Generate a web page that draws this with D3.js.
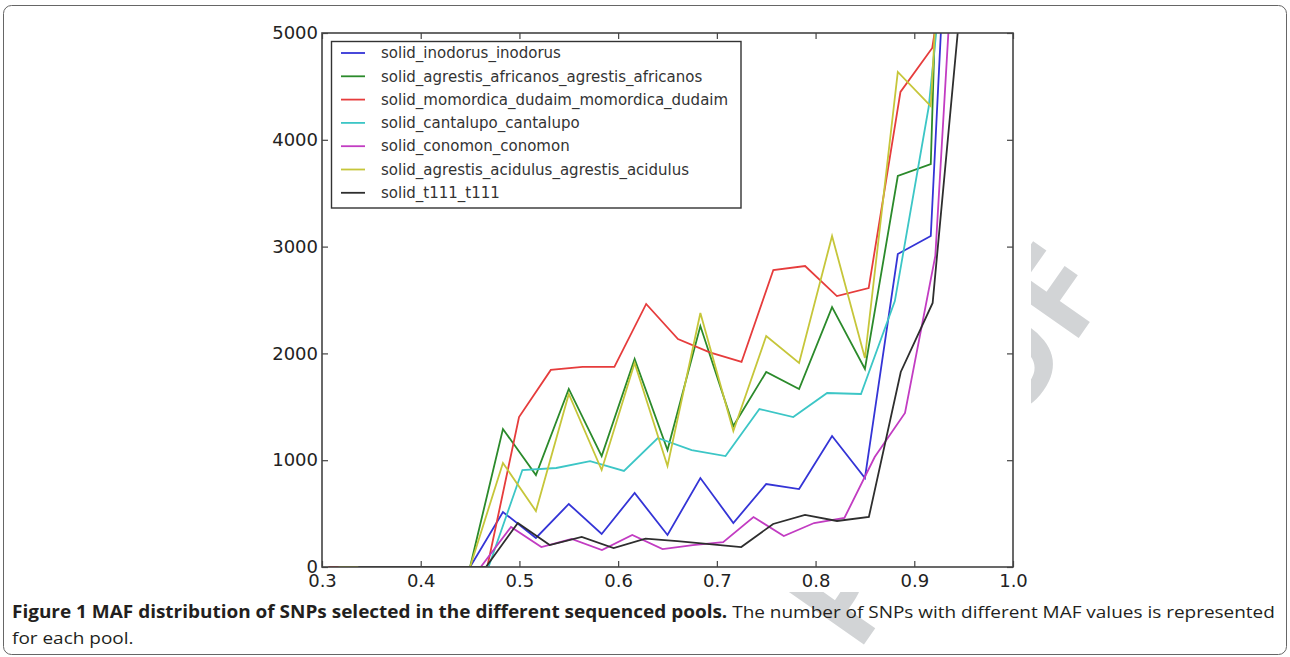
<!DOCTYPE html>
<html>
<head>
<meta charset="utf-8">
<script src="https://cdn.jsdelivr.net/npm/d3@7"></script>
<style>
  body { margin: 0; background: #fff; }
  svg { display: block; }
</style>
</head>
<body>
<div id="chart"></div>
<script>
// pool names, in the order matplotlib drew them
const poolNames = [
  "solid_inodorus_inodorus",
  "solid_agrestis_africanos_agrestis_africanos",
  "solid_momordica_dudaim_momordica_dudaim",
  "solid_cantalupo_cantalupo",
  "solid_conomon_conomon",
  "solid_agrestis_acidulus_agrestis_acidulus",
  "solid_t111_t111"
];
const poolColors = ["#3434d6", "#2b8a2b", "#e63c3c", "#3cc6c6", "#c23cc2", "#c6c63a", "#2e2e2e"];

// MAF bin centres and SNP counts
const mafInodorus = [0.3167, 0.35, 0.3833, 0.4167, 0.45, 0.4833, 0.5167, 0.55, 0.5833, 0.6167, 0.65, 0.6833, 0.7167, 0.75, 0.7833, 0.8167, 0.85, 0.8833, 0.9167, 0.95];
const snpInodorus = [0, 0, 0, 0, 0, 515, 272, 590, 309, 693, 300, 833, 412, 777, 730, 1227, 833, 2930, 3099, 9300];

const mafAfricanos = [0.3167, 0.35, 0.3833, 0.4167, 0.45, 0.4833, 0.5167, 0.55, 0.5833, 0.6167, 0.65, 0.6833, 0.7167, 0.75, 0.7833, 0.8167, 0.85, 0.8833, 0.9167, 0.95];
const snpAfricanos = [0, 0, 0, 0, 0, 1292, 861, 1667, 1039, 1948, 1096, 2256, 1320, 1826, 1667, 2434, 1854, 3661, 3773, 13900];

const mafMomordica = [0.3064, 0.3386, 0.3708, 0.403, 0.4352, 0.4674, 0.4996, 0.5318, 0.564, 0.5962, 0.6284, 0.6606, 0.6928, 0.725, 0.7572, 0.7894, 0.8216, 0.8538, 0.886, 0.9182, 0.9504];
const snpMomordica = [0, 0, 0, 0, 0, 0, 1404, 1845, 1873, 1873, 2463, 2135, 2010, 1920, 2781, 2818, 2537, 2612, 4448, 4860, 6800];

const mafCantalupo = [0.3315, 0.3658, 0.4001, 0.4344, 0.4687, 0.503, 0.5373, 0.5716, 0.6059, 0.6402, 0.6745, 0.7088, 0.7431, 0.7774, 0.8117, 0.846, 0.8803, 0.9146, 0.9489];
const snpCantalupo = [0, 0, 0, 0, 0, 908, 927, 992, 899, 1208, 1095, 1039, 1479, 1404, 1629, 1620, 2490, 4307, 7460];

const mafConomon = [0.338, 0.3687, 0.3994, 0.4301, 0.4608, 0.4915, 0.5222, 0.5529, 0.5836, 0.6143, 0.645, 0.6757, 0.7064, 0.7371, 0.7678, 0.7985, 0.8292, 0.8599, 0.8906, 0.9213, 0.952];
const snpConomon = [0, 0, 0, 0, 0, 375, 187, 262, 159, 300, 168, 205, 232, 468, 290, 412, 459, 1030, 1442, 2912, 7760];

const mafAcidulus = [0.3167, 0.35, 0.3833, 0.4167, 0.45, 0.4833, 0.5167, 0.55, 0.5833, 0.6167, 0.65, 0.6833, 0.7167, 0.75, 0.7833, 0.8167, 0.85, 0.8833, 0.9167, 0.95];
const snpAcidulus = [0, 0, 0, 0, 0, 974, 524, 1620, 908, 1910, 946, 2378, 1273, 2163, 1910, 3099, 1957, 4635, 4316, 10000];

const mafT111 = [0.3368, 0.3691, 0.4015, 0.4338, 0.4661, 0.4984, 0.5307, 0.5631, 0.5954, 0.6277, 0.66, 0.6924, 0.7247, 0.757, 0.7893, 0.8217, 0.854, 0.8863, 0.9186, 0.951];
const snpT111 = [0, 0, 0, 0, 0, 412, 206, 281, 178, 265, 243, 215, 187, 403, 487, 431, 468, 1826, 2472, 5700];

const xTicks = [0.3, 0.4, 0.5, 0.6, 0.7, 0.8, 0.9, 1.0];
const yTicks = [0, 1000, 2000, 3000, 4000, 5000];

const captionBold = "Figure 1 MAF distribution of SNPs selected in the different sequenced pools.";
const captionRest = " The number of SNPs with different MAF values is represented";
const captionLine2 = "for each pool.";

const mafs = [mafInodorus, mafAfricanos, mafMomordica, mafCantalupo, mafConomon, mafAcidulus, mafT111];
const snps = [snpInodorus, snpAfricanos, snpMomordica, snpCantalupo, snpConomon, snpAcidulus, snpT111];
const pools = poolNames.map(function (name, i) {
  return {
    name: name,
    color: poolColors[i],
    points: mafs[i].map(function (m, j) { return [m, snps[i][j]]; })
  };
});

const W = 1290, H = 657;
const plot = {left: 322, right: 1013, top: 33, bottom: 567};

const svg = d3.select("#chart").append("svg")
    .attr("width", W)
    .attr("height", H);

svg.append("rect").attr("width", W).attr("height", H).attr("fill", "#fff");

// proof watermark, mostly hidden behind the figure image
svg.append("text")
    .attr("transform", "translate(1113,289) rotate(-55)")
    .attr("text-anchor", "end")
    .style("font-family", "'Open Sans', sans-serif")
    .style("font-weight", "bold")
    .style("font-size", "130px")
    .attr("fill", "#d2d4d6")
    .text("PROOF");

// the figure image (white background)
svg.append("rect")
    .attr("x", 250).attr("y", 12)
    .attr("width", 1031 - 250).attr("height", 592 - 12)
    .attr("fill", "#fff");

const x = d3.scaleLinear().domain([0.3, 1.0]).range([plot.left, plot.right]);
const y = d3.scaleLinear().domain([0, 5000]).range([plot.bottom, plot.top]);

svg.append("defs").append("clipPath").attr("id", "plotClip")
  .append("rect")
    .attr("x", plot.left).attr("y", plot.top)
    .attr("width", plot.right - plot.left)
    .attr("height", plot.bottom - plot.top);

const line = d3.line()
    .x(function (d) { return x(d[0]); })
    .y(function (d) { return y(d[1]); });

svg.append("g")
    .attr("clip-path", "url(#plotClip)")
  .selectAll("path")
  .data(pools)
  .enter().append("path")
    .attr("d", function (d) { return line(d.points); })
    .attr("fill", "none")
    .attr("stroke", function (d) { return d.color; })
    .attr("stroke-width", 1.8)
    .attr("stroke-linejoin", "miter");

// axes, matplotlib style: ticks pointing in on every side
const tickFont = "'DejaVu Sans', sans-serif";

function styleAxis(g) {
  g.select(".domain").remove();
  g.selectAll(".tick line").attr("stroke", "#444").attr("stroke-width", 1.2);
  g.selectAll(".tick text")
      .attr("fill", "#222")
      .style("font-family", tickFont)
      .style("font-size", "18px");
}

svg.append("g")
    .attr("transform", "translate(0," + plot.bottom + ")")
    .call(d3.axisBottom(x).tickValues(xTicks).tickFormat(d3.format(".1f")).tickSize(-6).tickPadding(7))
    .call(styleAxis);

svg.append("g")
    .attr("transform", "translate(0," + plot.top + ")")
    .call(d3.axisTop(x).tickValues(xTicks).tickFormat("").tickSize(-6))
    .call(styleAxis);

svg.append("g")
    .attr("transform", "translate(" + plot.left + ",0)")
    .call(d3.axisLeft(y).tickValues(yTicks).tickFormat(d3.format("d")).tickSize(-6).tickPadding(4))
    .call(styleAxis);

svg.append("g")
    .attr("transform", "translate(" + plot.right + ",0)")
    .call(d3.axisRight(y).tickValues(yTicks).tickFormat("").tickSize(-6))
    .call(styleAxis);

svg.append("rect")
    .attr("x", plot.left).attr("y", plot.top)
    .attr("width", plot.right - plot.left)
    .attr("height", plot.bottom - plot.top)
    .attr("fill", "none")
    .attr("stroke", "#444")
    .attr("stroke-width", 1.6);

// legend
const legend = svg.append("g");
legend.append("rect")
    .attr("x", 331.5).attr("y", 41.5)
    .attr("width", 741 - 331.5).attr("height", 208 - 41.5)
    .attr("fill", "#fff")
    .attr("stroke", "#333")
    .attr("stroke-width", 1.4);

const item = legend.selectAll("g.item")
    .data(pools)
  .enter().append("g")
    .attr("class", "item")
    .attr("transform", function (d, i) { return "translate(0," + (53 + i * 23.3) + ")"; });

item.append("line")
    .attr("x1", 341).attr("x2", 365)
    .attr("stroke", function (d) { return d.color; })
    .attr("stroke-width", 1.8);

item.append("text")
    .attr("x", 381)
    .attr("dy", "0.35em")
    .attr("fill", "#333")
    .style("font-family", tickFont)
    .style("font-size", "15px")
    .text(function (d) { return d.name; });

// caption
const capFont = "'Open Sans', sans-serif";
const cap1 = svg.append("g").attr("transform", "translate(12,618)");
const capText = cap1.append("text")
    .attr("fill", "#231f20")
    .style("font-family", capFont)
    .style("font-size", "17px");
capText.append("tspan").style("font-weight", "bold").text(captionBold);
capText.append("tspan").text(captionRest);
const natural = capText.node().getComputedTextLength();
const squeeze = (1276 - 12) / natural;
cap1.attr("transform", "translate(12,618) scale(" + squeeze + ",1)");

svg.append("text")
    .attr("transform", "translate(12,644) scale(" + squeeze + ",1)")
    .attr("fill", "#231f20")
    .style("font-family", capFont)
    .style("font-size", "17px")
    .text(captionLine2);

// page frame
svg.append("rect")
    .attr("x", 3.5).attr("y", 5.5)
    .attr("width", W - 7).attr("height", 649)
    .attr("rx", 8)
    .attr("fill", "none")
    .attr("stroke", "#666")
    .attr("stroke-width", 1);
</script>
</body>
</html>
